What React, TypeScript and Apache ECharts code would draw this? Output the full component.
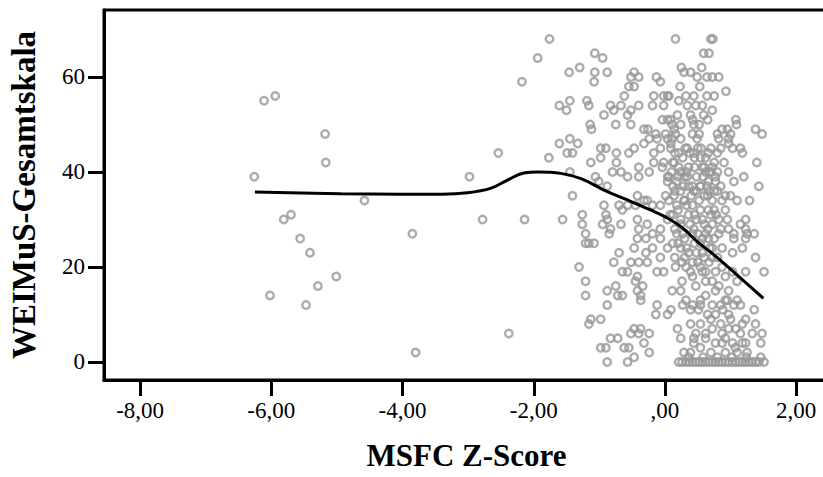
import React, { useEffect, useRef } from "react";
import * as echarts from "echarts";

const xTicks = [-8, -6, -4, -2, 0, 2];
const yTicks = [0, 20, 40, 60];
const xTitle = "MSFC Z-Score";
const yTitle = "WEIMuS-Gesamtskala";

const sparsePoints = [
  [-6.26, 39], [-6.11, 55], [-5.94, 56], [-5.81, 30], [-5.7, 31], [-5.56, 26], [-5.41, 23], [-5.18, 48],
  [-5.17, 42], [-6.02, 14], [-5.47, 12], [-5.29, 16], [-5.01, 18], [-4.58, 34], [-3.85, 27], [-3.8, 2],
  [-2.98, 39], [-2.54, 44], [-2.78, 30], [-2.14, 30], [-2.18, 59], [-1.94, 64], [-1.76, 68], [-2.38, 6],
  [-1.31, 20], [-1.56, 30],
];

const upperPoints = [
  [0.16, 68], [0.7, 68], [0.73, 68], [-1.07, 65], [-0.95, 64], [0.59, 65], [0.67, 65], [-1.46, 61],
  [-1.3, 62], [-1.07, 61], [-0.88, 61], [-1.08, 59], [-0.47, 61], [-0.52, 60], [-0.4, 60], [-0.13, 60],
  [-0.07, 59], [0.25, 62], [0.29, 61], [0.39, 61], [0.56, 62], [0.49, 60], [0.64, 60], [0.72, 60],
  [0.82, 60], [0.23, 58], [0.53, 58], [0.93, 57], [-0.55, 58], [-0.47, 58], [-1.61, 54], [-1.45, 55],
  [-1.5, 53], [-1.19, 55], [-1.16, 54], [-0.83, 54], [-0.93, 52], [-0.78, 53], [-0.67, 54], [-0.62, 56],
  [-0.52, 53], [-0.4, 54], [-0.57, 52], [-0.17, 56], [-0.02, 56], [0.04, 56], [-0.19, 54], [-0.02, 54],
  [0.21, 55], [0.32, 56], [0.44, 56], [0.34, 54], [0.47, 54], [0.64, 56], [0.75, 56], [0.57, 54],
  [0.72, 53], [0.19, 52], [0.39, 52], [0.59, 52], [-0.04, 51], [0.04, 51], [0.11, 50], [0.24, 50],
  [0.44, 50], [0.65, 51], [1.08, 51], [1.09, 50], [-1.14, 50], [-1.12, 49], [-0.75, 50], [-0.52, 50],
  [-0.32, 49], [-0.26, 49], [-0.14, 48], [0.01, 48], [0.14, 49], [0.52, 48], [0.8, 48], [0.87, 49],
  [0.95, 49], [1.38, 49], [1.48, 48], [0.06, 56], [0.09, 51], [0.42, 51], [0.52, 50], [0.16, 48],
  [0.42, 48], [1.0, 48], [0.11, 47], [0.24, 47], [0.49, 47], [0.82, 47], [0.97, 47], [-1.45, 47],
  [-0.24, 47], [-0.12, 47], [0.04, 47],
];

const middlePoints = [
  [-1.33, 46], [-1.61, 46], [-1.49, 44], [-1.41, 44], [-1.77, 43], [-0.98, 45], [-0.9, 45], [-0.98, 43],
  [-0.74, 44], [-0.55, 44], [-0.47, 45], [-0.32, 46], [-0.17, 44], [0.09, 46], [0.34, 45], [0.44, 44],
  [0.54, 43], [0.85, 45], [0.97, 46], [1.03, 45], [1.15, 45], [1.18, 44], [-1.45, 40], [-1.13, 42],
  [-0.8, 40], [-0.67, 40], [-0.57, 39], [-0.4, 41], [-0.24, 40], [-0.07, 45], [-0.02, 42], [0.04, 38],
  [-1.06, 39], [-1.01, 38], [-0.88, 37], [-1.41, 35], [-0.93, 33], [-0.7, 33], [-0.65, 32], [-0.9, 31],
  [-0.88, 30], [-0.95, 29], [-0.67, 29], [-0.85, 27], [-1.26, 31], [-1.26, 29], [-1.21, 27], [-1.16, 25],
  [-1.08, 25], [-0.42, 35], [-0.45, 33], [-0.27, 34], [-0.19, 33], [-0.07, 33], [0.01, 35], [-0.42, 30],
  [-0.4, 28], [-0.27, 29], [-0.19, 27], [-0.07, 28], [0.04, 30], [-0.42, 26], [-0.29, 26], [-0.19, 24],
  [-0.07, 26], [0.04, 24], [-0.47, 24], [-0.7, 23], [-0.29, 23], [-0.07, 22], [-0.74, 42], [-0.4, 39],
  [-0.17, 42], [-0.04, 41], [0.04, 39], [0.14, 42], [0.21, 41], [0.34, 39], [0.57, 41], [0.7, 40],
  [0.77, 39], [0.9, 42], [0.97, 40], [1.05, 38], [1.2, 39], [1.4, 42], [1.43, 37], [-0.32, 34],
  [-0.57, 33], [-0.83, 28], [0.14, 35], [0.29, 34], [0.44, 36], [0.54, 37], [0.65, 35], [0.8, 36],
  [0.87, 34], [1.0, 35], [1.1, 34], [1.29, 34], [0.75, 32], [0.92, 32], [0.95, 30], [1.15, 29],
  [1.23, 28], [1.36, 27], [1.05, 27], [0.85, 28], [0.65, 28], [0.44, 28], [0.24, 29], [0.92, 35],
  [0.62, 40], [0.77, 38], [0.67, 36], [1.23, 30], [1.25, 27], [1.23, 26], [1.05, 26], [0.97, 28],
  [0.82, 27], [0.87, 24], [1.03, 23], [1.18, 24], [1.38, 22], [0.72, 24], [0.57, 26],
];

const corePoints = [
  [0.09, 45], [0.21, 44], [0.31, 45], [0.45, 43], [0.55, 45], [0.66, 44], [0.75, 42], [0.12, 42],
  [0.24, 40], [0.36, 41], [0.48, 39], [0.6, 41], [0.72, 41], [0.06, 39], [0.18, 38], [0.3, 39],
  [0.42, 37], [0.54, 37], [0.66, 38], [0.12, 37], [0.24, 36], [0.36, 37], [0.48, 36], [0.6, 35],
  [0.72, 34], [0.06, 34], [0.18, 33], [0.3, 34], [0.42, 33], [0.54, 32], [0.66, 32], [0.78, 31],
  [0.12, 31], [0.24, 30], [0.36, 31], [0.48, 30], [0.6, 29], [0.72, 29], [0.18, 27], [0.3, 26],
  [0.42, 27], [0.54, 25], [0.66, 26], [0.12, 25], [0.24, 24], [0.36, 23], [0.48, 23], [0.6, 22],
  [0.72, 22], [0.3, 22], [0.42, 21],
  [0.15, 44], [0.27, 43], [0.38, 44], [0.5, 45], [0.62, 43], [0.7, 45], [0.8, 44], [0.1, 40],
  [0.2, 39], [0.33, 40], [0.45, 41], [0.58, 39], [0.68, 40], [0.8, 40], [0.15, 36], [0.28, 37],
  [0.4, 35], [0.52, 34], [0.64, 37], [0.75, 36], [0.85, 37], [0.08, 31], [0.2, 32], [0.33, 33],
  [0.45, 31], [0.57, 30], [0.7, 31], [0.82, 30], [0.15, 28], [0.27, 27], [0.38, 29], [0.5, 27],
  [0.62, 27], [0.75, 26], [0.2, 25], [0.33, 24], [0.45, 25], [0.57, 23], [0.68, 24], [0.8, 22],
  [0.15, 22], [0.26, 21], [0.5, 21], [0.62, 19],
];

const lowerPoints = [
  [1.51, 19], [1.23, 19], [1.36, 11], [1.38, 8], [1.48, 6], [1.46, 4], [1.33, 6], [1.18, 8],
  [1.23, 9], [1.1, 13], [0.95, 13], [1.05, 12], [0.97, 15], [1.1, 17], [0.19, 7], [0.09, 11],
  [0.11, 15], [0.32, 13], [0.26, 17], [0.16, 20], [0.47, 6], [0.44, 4], [0.39, 2], [0.29, 2],
  [0.62, 5], [0.7, 2], [0.87, 4], [1.03, 4], [1.18, 4], [0.87, 6], [0.72, 7], [0.77, 10],
  [0.65, 10], [0.54, 12], [0.42, 12], [0.62, 14], [0.47, 16], [0.72, 17], [0.57, 19], [0.67, 21],
  [0.87, 20], [1.03, 19], [0.82, 16], [0.32, 20], [0.42, 18], [0.85, 12], [0.97, 10], [1.08, 7],
  [0.92, 2], [1.1, 2], [1.25, 2], [0.54, 20], [0.77, 19], [0.39, 19], [0.92, 18], [0.62, 17],
  [0.24, 15], [0.77, 15], [0.54, 13], [0.92, 13], [1.15, 12], [0.39, 11], [0.7, 9], [1.0, 9],
  [0.54, 8], [0.85, 8], [1.15, 6], [0.62, 6], [0.77, 4], [0.92, 5], [0.54, 3], [1.07, 3],
  [0.24, 5], [1.23, 4], [0.39, 8], [0.97, 7], [0.72, 12], [0.27, 12], [0.88, 11], [0.51, 11],
  [-0.78, 21], [-0.52, 21], [-0.4, 21], [-0.27, 21], [-0.12, 19], [-0.65, 19], [-0.57, 19], [-1.21, 25],
  [-1.21, 17], [-1.21, 14], [-0.88, 15], [-0.75, 16], [-0.72, 14], [-0.65, 14], [-0.88, 12], [-0.45, 17],
  [-0.34, 16], [-0.42, 15], [-0.37, 13], [-0.12, 12], [-0.14, 10], [-1.13, 9], [-0.98, 9], [-1.16, 8],
  [-0.83, 5], [-0.72, 5], [-0.98, 3], [-0.9, 3], [-0.62, 3], [-0.55, 3], [-0.52, 6], [-0.47, 7],
  [-0.37, 7], [-0.24, 6], [-0.32, 4], [-0.24, 2], [-0.47, 1], [-0.57, 0], [-0.88, 0], [0.44, 5],
  [-0.02, 19], [-0.42, 18], [-0.37, 14], [0.04, 10], [-0.4, 6],
];

const floorPoints = [
  [0.21, 0], [0.26, 0], [0.32, 0], [0.37, 0], [0.42, 0], [0.47, 0], [0.52, 0], [0.57, 0],
  [0.62, 0], [0.67, 0], [0.72, 0], [0.77, 0], [0.82, 0], [0.87, 0], [0.92, 0], [0.97, 0],
  [1.03, 0], [1.08, 0], [1.13, 0], [1.18, 0], [1.23, 0], [1.28, 0], [1.33, 0], [1.38, 0],
  [1.43, 0], [1.51, 0], [0.36, 1], [0.58, 1], [0.8, 1], [1.02, 1], [1.24, 1], [1.46, 1],
];

const loessX = [-6.25, -4.94, -4.03, -3.4, -3.01, -2.65, -2.4, -2.15, -1.94, -1.59, -1.28, -0.93, -0.57, -0.22, 0.01, 0.27, 0.51, 0.77, 1.15, 1.5];
const loessY = [35.8, 35.4, 35.3, 35.3, 35.6, 36.6, 38.3, 39.8, 40.0, 39.7, 38.6, 36.2, 34.1, 32.0, 30.5, 28.2, 25.1, 22.3, 17.7, 13.4];

const fmt = (v: number) => (v === 0 ? ",00" : v.toFixed(2).replace(".", ","));
const serif = "'Liberation Serif', 'Times New Roman', serif";

export default function App() {
  const ref = useRef<HTMLDivElement>(null);
  useEffect(() => {
    if (!ref.current) return;
    const chart = echarts.init(ref.current, null, { renderer: "svg" });
    const points = [
      ...sparsePoints, ...upperPoints, ...middlePoints, ...corePoints, ...lowerPoints, ...floorPoints,
    ];
    const loess = loessX.map((x, i) => [x, loessY[i]]);
    chart.setOption({
      animation: false,
      grid: {
        left: 104, top: 10, right: -6, bottom: 97,
        show: true, borderColor: "#000", borderWidth: 3,
        outerBoundsMode: "none",
      },
      xAxis: {
        type: "value", min: -8.55, max: 2.5,
        name: xTitle, nameLocation: "middle", nameGap: 60,
        nameTextStyle: { fontFamily: serif, fontWeight: "bold", fontSize: 31, color: "#000" },
        axisLine: { show: true, onZero: false, lineStyle: { color: "#000", width: 3 } },
        axisTick: { show: true, length: 16, customValues: xTicks, lineStyle: { color: "#000", width: 3 } },
        axisLabel: { customValues: xTicks, formatter: fmt, fontFamily: serif, fontSize: 23, color: "#000", margin: 19 },
        splitLine: { show: false },
      },
      yAxis: {
        type: "value", min: -3.8, max: 74.1,
        name: yTitle, nameLocation: "middle", nameGap: 64,
        nameTextStyle: { fontFamily: serif, fontWeight: "bold", fontSize: 33, color: "#000" },
        axisLine: { show: true, onZero: false, lineStyle: { color: "#000", width: 3 } },
        axisTick: { show: true, length: 16, customValues: yTicks, lineStyle: { color: "#000", width: 3 } },
        axisLabel: { customValues: yTicks, formatter: (v: number) => String(v), fontFamily: serif, fontSize: 23, color: "#000", margin: 19 },
        splitLine: { show: false },
      },
      series: [
        {
          type: "scatter",
          data: points,
          symbol: "circle",
          symbolSize: 7.5,
          itemStyle: { color: "rgba(0,0,0,0)", borderColor: "#979797", borderWidth: 2.4 },
          z: 2,
        },
        {
          type: "line",
          data: loess,
          smooth: 0.4,
          showSymbol: false,
          symbol: "none",
          lineStyle: { color: "#000", width: 3 },
          z: 3,
        },
      ],
    });
    return () => chart.dispose();
  }, []);
  return <div ref={ref} style={{ position: "absolute", left: 0, top: 0, width: 823, height: 477 }} />;
}
